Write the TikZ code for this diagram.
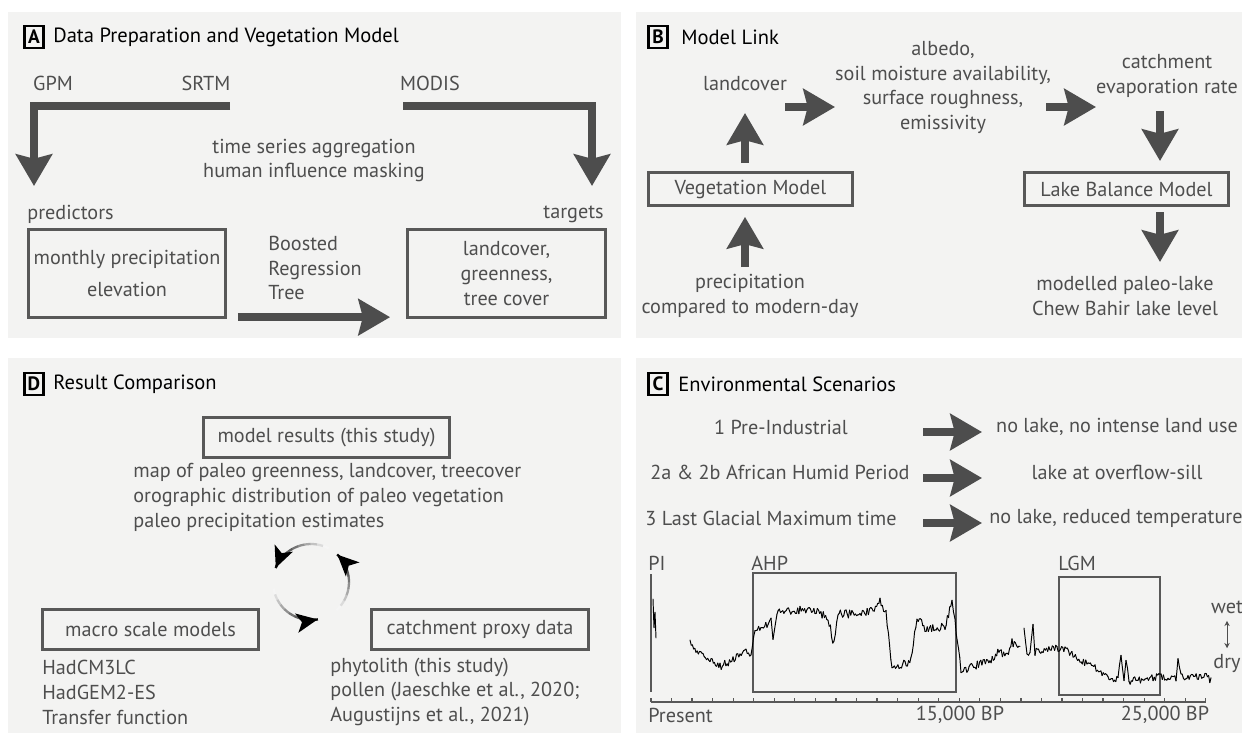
\documentclass[tikz,border=0pt]{standalone}
\usepackage{fontspec}
\setmainfont{PT Sans}
\usetikzlibrary{positioning, arrows.meta, calc}
\definecolor{panelGray}{RGB}{243,243,242}
\definecolor{arrowGray}{RGB}{77,77,77}
\definecolor{textGray}{RGB}{78,78,78}
\definecolor{frameGray}{RGB}{88,88,88}
\newcommand{\unitpx}{0.02cm}
\tikzset{
	panelbg/.style={fill=panelGray, draw=none},
	tagbox/.style={draw=black, line width=1.6pt, inner sep=0pt, minimum width=11pt,
		minimum height=12.6pt, font=\fontsize{11}{12}\selectfont\bfseries},
	headtxt/.style={anchor=west, font=\fontsize{11.7}{14}\selectfont, text=black, inner sep=0pt},
	bodytxt/.style={font=\fontsize{11.5}{14.2}\selectfont, text=textGray, align=center, inner sep=0pt},
	modelbox/.style={draw=frameGray, line width=1.6pt, inner sep=0pt, align=center,
		font=\fontsize{11.5}{14.2}\selectfont, text=textGray},
	bigarr/.style={draw=arrowGray, line width=4.5pt, -{Stealth[length=18pt, width=20.5pt, inset=2.5pt]}},
	framebox/.style={draw=frameGray, line width=1.6pt},
	axisline/.style={draw=frameGray, line width=0.7pt},
	record/.style={draw=black, line width=0.55pt, line cap=round}
}
% noisy record through a list of x/y knots
\newcommand{\noisyrecord}[4]{%
	\xdef\recx{#1}\xdef\recy{#2}\xdef\lastx{#1}\xdef\lasty{#2}%
	\foreach \kx/\ky in {#4}{%
		\pgfmathtruncatemacro\recn{max(1,(\kx-\recx)/1.1)}%
		\foreach \j in {1,...,\recn}{%
			\pgfmathsetmacro\recpx{\recx+(\kx-\recx)*\j/\recn}%
			\pgfmathsetmacro\recpy{\recy+(\ky-\recy)*\j/\recn+#3*rand}%
			\draw[record] (\lastx,\lasty) -- (\recpx,\recpy);
			\xdef\lastx{\recpx}\xdef\lasty{\recpy}%
		}%
		\xdef\recx{\kx}\xdef\recy{\ky}%
	}}
\begin{document}
\begin{tikzpicture}[x=0.02cm, y=-0.02cm]
	\useasboundingbox (0,0) rectangle (1242,737);
	% panels
	\fill[panelbg] (8,12) rectangle (621,338);
	\fill[panelbg] (636,12) rectangle (1242,338);
	\fill[panelbg] (8,358) rectangle (621,733);
	\fill[panelbg] (636,358) rectangle (1242,733);

	% A: data preparation
	\node[tagbox] (tagA) at (34,37) {A};
	\node[headtxt] (headA) at (53,37) {Data Preparation and Vegetation Model};
	\node[bodytxt] (gpm) at (53,83) {GPM};
	\node[bodytxt] (srtm) at (206,83) {SRTM};
	\node[bodytxt] (modis) at (430,83) {MODIS};
	\node[bodytxt] (prep) at (314,160.5) {time series aggregation\\human influence masking};
	\node[bodytxt, anchor=west] (pred) at (27,214) {predictors};
	\node[bodytxt, anchor=east] (targ) at (604,214) {targets};
	\node[modelbox, minimum width=197*\unitpx, minimum height=88*\unitpx] (predbox) at (127,273.5)
		{monthly precipitation\\[4.5pt]elevation};
	\node[modelbox, minimum width=198*\unitpx, minimum height=88*\unitpx] (targbox) at (506.5,273.5)
		{landcover,\\greenness,\\tree cover};
	\node[bodytxt, align=left, anchor=west] (brt) at (268,268) {Boosted\\Regression\\Tree};
	\coordinate (srtmbar) at (230,106);
	\coordinate (predtip) at (34,186);
	\coordinate (modisbar) at (403,106);
	\coordinate (targtip) at (592,186);
	\draw[bigarr] (srtmbar) -| (predtip);
	\draw[bigarr] (modisbar) -| (targtip);
	\draw[bigarr] ([xshift=11*\unitpx, yshift=1pt]predbox.south east) -- ([xshift=-16*\unitpx, yshift=1pt]targbox.south west);

	% B: model link
	\node[tagbox] (tagB) at (658,37) {B};
	\node[headtxt] (headB) at (681,37) {Model Link};
	\node[bodytxt] (landc) at (745,84) {landcover};
	\node[bodytxt] (surf) at (943,87.5) {albedo,\\soil moisture availability,\\surface roughness,\\emissivity};
	\node[bodytxt] (evap) at (1167,75.5) {catchment\\evaporation rate};
	\node[modelbox, minimum width=204*\unitpx, minimum height=33*\unitpx] (vegbox) at (750.5,189) {Vegetation Model};
	\node[modelbox, minimum width=204*\unitpx, minimum height=33*\unitpx] (lakebox) at (1126.5,189) {Lake Balance Model};
	\node[bodytxt] (precip) at (750,296) {precipitation\\compared to modern-day};
	\node[bodytxt] (paleo) at (1125,296) {modelled paleo-lake\\Chew Bahir lake level};
	\coordinate (landcTip) at (745,113);
	\coordinate (precipTop) at (745,267);
	\coordinate (landcArr) at (785,107);
	\coordinate (surfTip) at (835,107);
	\coordinate (surfArr) at (1046,107);
	\coordinate (evapTip) at (1096,107);
	\coordinate (evapArr) at (1160,111);
	\coordinate (lakeTip) at (1160,161);
	\coordinate (lakeArr) at (1160,212);
	\coordinate (paleoTip) at (1160,262);
	\draw[bigarr] ([yshift=8*\unitpx]vegbox.north -| landcTip) -- (landcTip);
	\draw[bigarr] (precipTop) -- ([yshift=-10*\unitpx]vegbox.south -| precipTop);
	\draw[bigarr] (landcArr) -- (surfTip);
	\draw[bigarr] (surfArr) -- (evapTip);
	\draw[bigarr] (evapArr) -- (lakeTip);
	\draw[bigarr] (lakeArr) -- (paleoTip);

	% D: result comparison
	\node[tagbox] (tagD) at (34,384) {D};
	\node[headtxt] (headD) at (53,384) {Result Comparison};
	\node[modelbox, minimum width=246*\unitpx, minimum height=40*\unitpx] (resbox) at (326.5,437.5) {model results (this study)};
	\node[bodytxt, align=left, anchor=west] (resnotes) at (133,497.5)
		{map of paleo greenness, landcover, treecover\\orographic distribution of paleo vegetation\\paleo precipitation estimates};
	\node[modelbox, minimum width=216*\unitpx, minimum height=40*\unitpx] (macrobox) at (150.5,629.5) {macro scale models};
	\node[modelbox, minimum width=217*\unitpx, minimum height=40*\unitpx] (proxybox) at (480,629.5) {catchment proxy data};
	\node[bodytxt, align=left, anchor=west] (macronotes) at (42,692) {HadCM3LC\\HadGEM2-ES\\Transfer function};
	\node[bodytxt, align=left, anchor=west] (proxynotes) at (330,692)
		{phytolith (this study)\\pollen (Jaeschke et al., 2020;\\Augustijns et al., 2021)};
	\coordinate (cyc) at (311,582);
	\foreach \s/\e in {62/158, 190/280, 312/406}{
		\foreach \k [evaluate=\k as \pct using int(4+\k*10), evaluate=\k as \a using \s+(\e-\s)*\k/10] in {0,...,9}
			\draw[line width=1.3pt, draw=black!\pct] ([shift={(\a:0.76cm)}]cyc) arc[start angle=\a, end angle=\a+(\e-\s)/10+0.5, radius=0.76cm];
		\draw[line width=1.3pt, -{Stealth[length=12pt, width=11pt, inset=3pt]}] ([shift={(\e-3:0.76cm)}]cyc) arc[start angle=\e-3, end angle=\e, radius=0.76cm];
	}

	% C: environmental scenarios
	\node[tagbox] (tagC) at (658,384) {C};
	\node[headtxt] (headC) at (678,384) {Environmental Scenarios};
	\node[bodytxt] (scen1) at (781,427) {1 Pre-Industrial};
	\node[bodytxt] (scen2) at (780,472) {2a \& 2b African Humid Period};
	\node[bodytxt] (scen3) at (771,518) {3 Last Glacial Maximum time};
	\node[bodytxt] (res1) at (1117,427) {no lake, no intense land use};
	\node[bodytxt] (res2) at (1117,472) {lake at overflow-sill};
	\node[bodytxt] (res3) at (1116,518) {no lake, reduced temperature};
	\foreach \i/\y in {1/432, 2/478, 3/523}{
		\coordinate (scenArr\i) at (923,\y);
		\coordinate (resTip\i) at (982,\y);
		\draw[bigarr] (scenArr\i) -- (resTip\i);
	}
	% lake level record
	\node[bodytxt, anchor=west] (piLbl) at (648,563) {PI};
	\node[bodytxt, anchor=west] (ahpLbl) at (751,563) {AHP};
	\node[bodytxt, anchor=west] (lgmLbl) at (1058,563) {LGM};
	\draw[framebox] (651,574) -- (651,692);
	\draw[framebox] (753,573) rectangle (956,692);
	\draw[framebox] (1059,577) rectangle (1160,695);
	\draw[axisline] (651,702) -- (1206,702);
	\foreach \t in {0,...,27}
		\draw[axisline] (651+\t*20.55,702) -- ++(0,-4);
	\node[bodytxt, anchor=west] (present) at (648,715) {Present};
	\node[bodytxt] (bp15) at (960,715) {15,000 BP};
	\node[bodytxt] (bp25) at (1165,715) {25,000 BP};
	\node[bodytxt] (wet) at (1227,607) {wet};
	\node[bodytxt] (dry) at (1227,663) {dry};
	\draw[textGray, line width=0.5pt, {Stealth[length=3pt, width=3pt]}-{Stealth[length=3pt, width=3pt]}, shorten <=4pt, shorten >=3pt] (wet.south) -- (dry.north);
	\pgfmathsetseed{11}
	\draw[record] (653,599) -- (654,628) -- (655,612) -- (656,638);
	\noisyrecord{690}{640}{4}{696/652, 710/658, 720/666, 733/660, 740/655, 746/647,
		751/658, 755/628, 767/625, 771/617, 773/636, 777/612, 800/610,
		815/611, 828/618, 834/645, 838/614, 860/614, 872/610, 880/602,
		886/612, 892/667, 905/664, 911/660, 917/618, 925/628, 945/627,
		952/603, 955/622, 961/670, 975/666, 990/660, 1000/650, 1006/657,
		1012/642, 1020/648}
	\noisyrecord{1024}{628}{3.5}{1027/657, 1030/650, 1033/627, 1035/652, 1050/648, 1065/650,
		1080/660, 1095/668, 1108/677, 1118/680, 1121/655, 1124/680, 1126/662,
		1129/681, 1145/679, 1160/676, 1176/678, 1178/662, 1181/677, 1195/677,
		1205/675, 1211/681}
\end{tikzpicture}
\end{document}
